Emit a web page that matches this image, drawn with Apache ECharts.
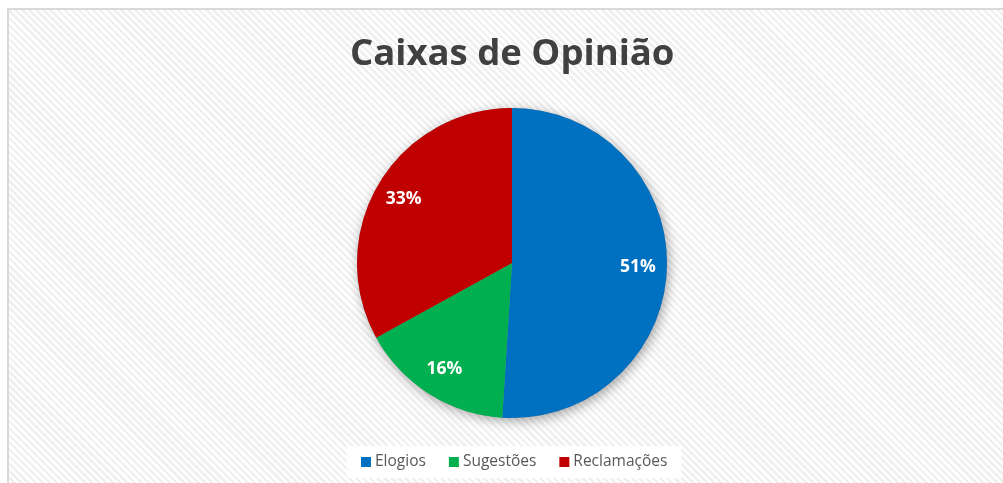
<!DOCTYPE html>
<html><head><meta charset="utf-8">
<script src="https://cdn.jsdelivr.net/npm/echarts@6/dist/echarts.min.js"></script>
<style>
html,body{margin:0;padding:0;width:1003px;height:483px;overflow:hidden;background:#fff;}
#frame{position:absolute;left:7px;top:8px;width:1100px;height:600px;border-left:2px solid #d9d9d9;border-top:2px solid #d9d9d9;
background:repeating-linear-gradient(45deg,#ffffff 0px,#ffffff 2.5px,#f0f0f0 2.5px,#f0f0f0 5px);}
#chart{position:absolute;left:0;top:0;width:1003px;height:483px;}
</style></head>
<body>
<div id="frame"></div>
<div id="chart"></div>
<script>
const categories = ['Elogios', 'Sugestões', 'Reclamações'];
const values = [51, 16, 33];
const colors = ['#0070c0', '#00b050', '#c00000'];
const titleText = 'Caixas de Opinião';

const FONT = '"Open Sans", sans-serif';
const chart = echarts.init(document.getElementById('chart'), null, {renderer: 'canvas'});
const data = categories.map((c, i) => ({name: c, value: values[i], itemStyle: {color: colors[i]}}));
const total = values.reduce((a, b) => a + b, 0);

chart.setOption({
  backgroundColor: 'transparent',
  animation: false,
  title: {
    text: titleText, left: 350, top: 36, padding: 0,
    textStyle: {fontFamily: FONT, fontWeight: 'bold', fontSize: 36.5, color: '#404040'}
  },
  legend: {
    data: categories, bottom: 5, left: 347,
    icon: 'rect', itemWidth: 10, itemHeight: 10, itemGap: 23,
    backgroundColor: '#ffffff', padding: [8, 14],
    textStyle: {fontFamily: FONT, fontSize: 15.5, color: '#595959', padding: [0, 0, 0, -1]}
  },
  series: [
    {
      type: 'pie', silent: true, center: [512, 263], radius: [0, 155], z: 1,
      legendHoverLink: false, label: {show: false}, labelLine: {show: false},
      data: [{name: '_shadow', value: total, itemStyle: {color: '#888', shadowBlur: 12, shadowColor: 'rgba(0,0,0,0.35)', shadowOffsetX: 2, shadowOffsetY: 3}}],
      tooltip: {show: false}
    },
    {
      type: 'pie', center: [512, 263], radius: [0, 155], startAngle: 90, clockwise: true, z: 2,
      label: {show: false}, labelLine: {show: false},
      data: data
    },
    {
      type: 'pie', center: [512, 263], radius: [98, 148], startAngle: 90, clockwise: true, z: 3, silent: true,
      itemStyle: {color: 'transparent', borderWidth: 0},
      label: {show: true, position: 'inside', formatter: '{d}%', fontFamily: FONT, fontWeight: 'bold', fontSize: 17.5, color: '#ffffff'},
      labelLine: {show: false},
      data: categories.map((c, i) => ({name: c, value: values[i], itemStyle: {color: 'transparent'}}))
    }
  ]
});
</script>
</body></html>
